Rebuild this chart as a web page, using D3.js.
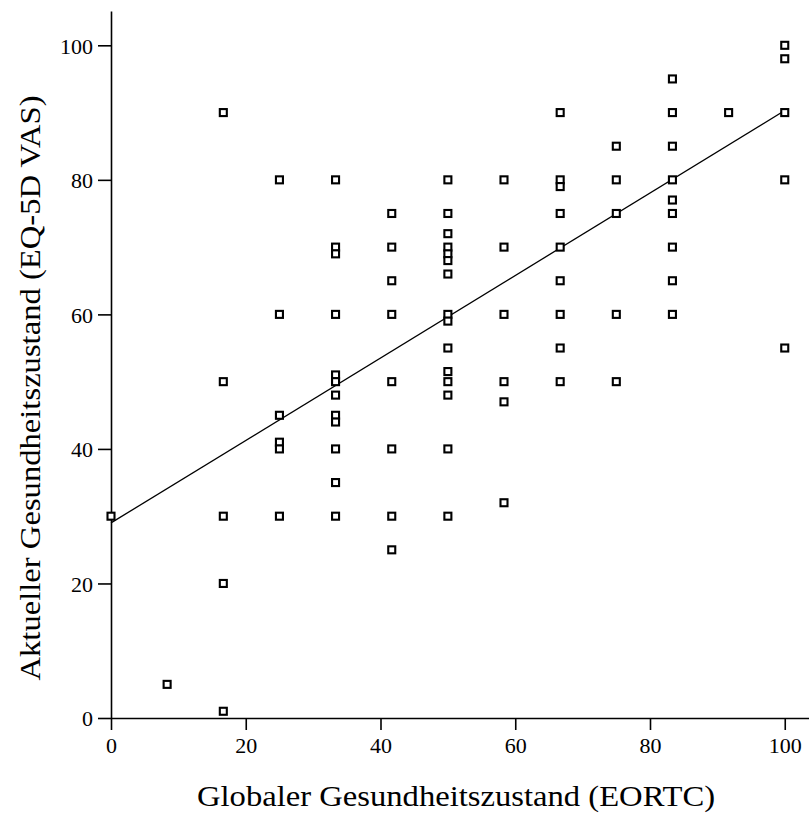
<!DOCTYPE html>
<html>
<head>
<meta charset="utf-8">
<script src="https://cdn.jsdelivr.net/npm/d3@7"></script>
<style>
  html, body { margin: 0; padding: 0; background: #fff; }
  svg { display: block; }
</style>
</head>
<body>
<svg id="chart" width="809" height="818"></svg>
<script>
// EORTC global health (x) scores by column and the EQ-5D VAS (y) values observed there
const eortcLevels = [0, 8.33, 16.67, 25, 33.33, 41.67, 50, 58.33, 66.67, 75, 83.33, 91.67, 100];
const vasAt0     = [30];
const vasAt8     = [5];
const vasAt17    = [90, 50, 30, 20, 1];
const vasAt25    = [80, 60, 45, 41, 40, 30];
const vasAt33    = [80, 70, 69, 60, 51, 50, 48, 45, 44, 40, 35, 30];
const vasAt42    = [75, 70, 65, 60, 50, 40, 30, 25];
const vasAt50    = [80, 75, 72, 70, 69, 68, 66, 60, 59, 55, 51.5, 50, 48, 40, 30];
const vasAt58    = [80, 70, 60, 50, 47, 32];
const vasAt67    = [90, 80, 79, 75, 70, 65, 60, 55, 50];
const vasAt75    = [85, 80, 75, 60, 50];
const vasAt83    = [95, 90, 85, 80, 77, 75, 70, 65, 60];
const vasAt92    = [90];
const vasAt100   = [100, 98, 90, 80, 55];
const vasColumns = [vasAt0, vasAt8, vasAt17, vasAt25, vasAt33, vasAt42, vasAt50, vasAt58, vasAt67, vasAt75, vasAt83, vasAt92, vasAt100];

// fitted regression line
const fitX = [0, 100];
const fitY = [29.0, 90.3];

const xTicks = [0, 20, 40, 60, 80, 100];
const yTicks = [0, 20, 40, 60, 80, 100];
const xTitle = "Globaler Gesundheitszustand (EORTC)";
const yTitle = "Aktueller Gesundheitszustand (EQ-5D VAS)";

const points = [];
eortcLevels.forEach((xv, i) => vasColumns[i].forEach(yv => points.push({x: xv, y: yv})));

const svg = d3.select("#chart");
const font = "'Liberation Serif', 'DejaVu Serif', serif";

const x = d3.scaleLinear().domain([0, 103.6]).range([111, 809]);
const y = d3.scaleLinear().domain([0, 105.1]).range([718, 11]);

const xAxis = svg.append("g")
  .attr("transform", "translate(0,718)")
  .call(d3.axisBottom(x).tickValues(xTicks).tickFormat(d3.format("d")).tickSize(12).tickSizeOuter(0).tickPadding(7));
const yAxis = svg.append("g")
  .attr("transform", "translate(111,0)")
  .call(d3.axisLeft(y).tickValues(yTicks).tickFormat(d3.format("d")).tickSize(13).tickSizeOuter(0).tickPadding(5));

[xAxis, yAxis].forEach(g => {
  g.selectAll("path, line").attr("stroke", "#000").attr("stroke-width", 1.6);
  g.selectAll("text").attr("fill", "#000").style("font-family", font).style("font-size", "22px");
});
yAxis.selectAll("text").attr("dy", "0.36em");

// regression line
svg.append("path")
  .datum(fitX.map((d, i) => [d, fitY[i]]))
  .attr("fill", "none")
  .attr("stroke", "#000")
  .attr("stroke-width", 1.3)
  .attr("d", d3.line().x(d => x(d[0])).y(d => y(d[1])));

// markers
const s = 7;
svg.append("g").selectAll("rect").data(points).join("rect")
  .attr("x", d => x(d.x) - s / 2)
  .attr("y", d => y(d.y) - s / 2)
  .attr("width", s)
  .attr("height", s)
  .attr("fill", "#fff")
  .attr("stroke", "#000")
  .attr("stroke-width", 2.1);

// axis titles
svg.append("text")
  .attr("x", 456).attr("y", 806)
  .attr("text-anchor", "middle")
  .attr("textLength", 518).attr("lengthAdjust", "spacingAndGlyphs")
  .style("font-family", font).style("font-size", "29px")
  .text(xTitle);

svg.append("text")
  .attr("transform", "translate(40,388) rotate(-90)")
  .attr("text-anchor", "middle")
  .attr("textLength", 585).attr("lengthAdjust", "spacingAndGlyphs")
  .style("font-family", font).style("font-size", "29px")
  .text(yTitle);
</script>
</body>
</html>
